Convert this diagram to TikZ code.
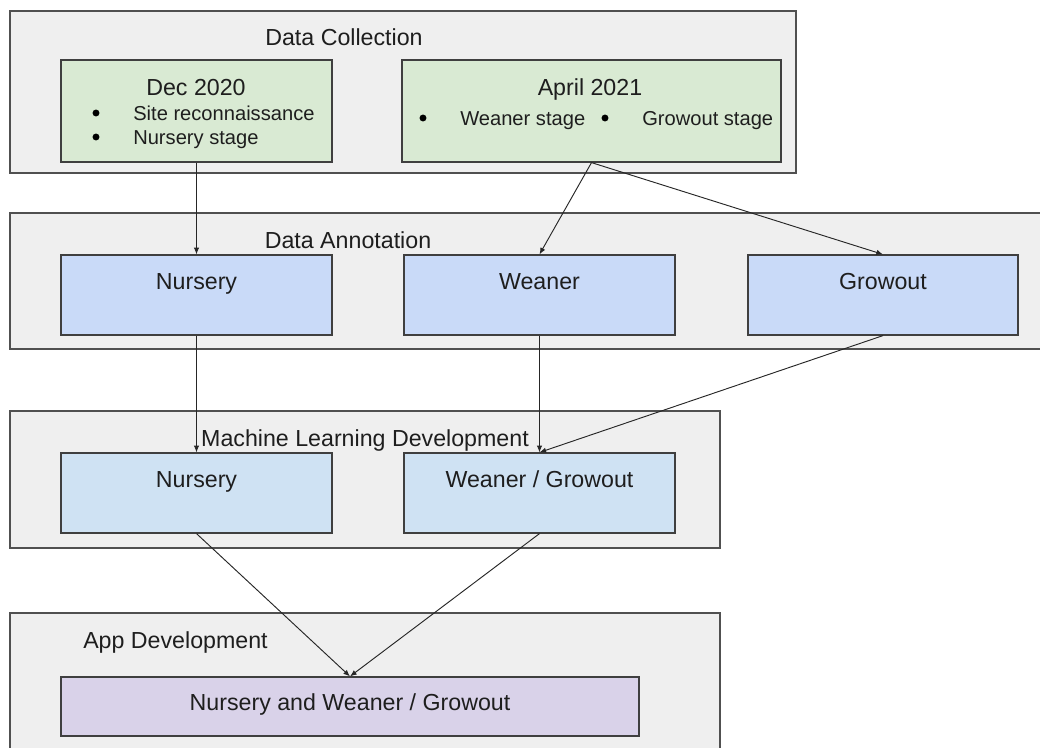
\documentclass[tikz,border=0pt]{standalone}
\usepackage{fontspec}
\setmainfont{Liberation Sans}
\usetikzlibrary{arrows.meta,fit}

\definecolor{stagefill}{HTML}{EFEFEF}
\definecolor{stageline}{HTML}{505050}
\definecolor{boxline}{HTML}{3F3F3F}
\definecolor{greenfill}{HTML}{D9EAD3}
\definecolor{bluefill}{HTML}{C9DAF8}
\definecolor{lightblue}{HTML}{CFE2F3}
\definecolor{purplefill}{HTML}{D9D2E9}
\definecolor{ink}{HTML}{1E1E1E}

\tikzset{
  stagebox/.style={draw=stageline, fill=stagefill, line width=1pt, inner sep=0pt, rectangle},
  itembox/.style={draw=boxline, line width=0.9pt, inner sep=0pt, rectangle},
  bigtext/.style={font=\fontsize{17.4}{20}\selectfont, text=ink, inner sep=0pt},
  smalltext/.style={font=\fontsize{15.1}{18}\selectfont, text=ink, inner sep=0pt},
  dot/.style={circle, fill=black, inner sep=0pt, minimum size=5.2pt},
  flow/.style={draw=black!85, line width=0.7pt, -{Latex[length=5pt,width=4pt]}}
}

\begin{document}
\begin{tikzpicture}[x=0.75pt, y=-0.75pt]
  \clip (0,0) rectangle (1040,747);
  \fill[white] (0,0) rectangle (1040,747);

  % stage frames
  \node[stagebox, fit={(10,11) (796,173)}] (collect) {};
  \node[stagebox, fit={(10,213) (1046,349)}] (annot) {};
  \node[stagebox, fit={(10,411) (720,548)}] (mldev) {};
  \node[stagebox, fit={(10,613) (720,756)}] (appdev) {};

  % stage titles
  \node[bigtext, anchor=base] (collectT) at (344,45) {Data Collection};
  \node[bigtext, anchor=base] (annotT) at (348,248) {Data Annotation};
  \node[bigtext, anchor=base] (mldevT) at (365,446) {Machine Learning Development};
  \node[bigtext, anchor=base west] (appdevT) at (83,648) {App Development};

  % data collection
  \node[itembox, fill=greenfill, fit={(61,60) (332,162)}] (dec) {};
  \node[bigtext, anchor=base] (decT) at (196,95) {Dec 2020};
  \node[dot] (decD1) at (96,113) {};
  \node[smalltext, anchor=base west] (decL1) at (133,120) {Site reconnaissance};
  \node[dot] (decD2) at (96,137) {};
  \node[smalltext, anchor=base west] (decL2) at (133,144) {Nursery stage};

  \node[itembox, fill=greenfill, fit={(402,60) (781,162)}] (apr) {};
  \node[bigtext, anchor=base] (aprT) at (590,95) {April 2021};
  \node[dot] (aprD1) at (423,118) {};
  \node[smalltext, anchor=base west] (aprL1) at (460,125) {Weaner stage};
  \node[dot] (aprD2) at (605,118) {};
  \node[smalltext, anchor=base west] (aprL2) at (642,125) {Growout stage};

  % data annotation
  \node[itembox, fill=bluefill, fit={(61,255) (332,335)}] (anNur) {};
  \node[bigtext, anchor=base] (anNurT) at (196.5,289) {Nursery};
  \node[itembox, fill=bluefill, fit={(404,255) (675,335)}] (anWea) {};
  \node[bigtext, anchor=base] (anWeaT) at (539.5,289) {Weaner};
  \node[itembox, fill=bluefill, fit={(748,255) (1018,335)}] (anGro) {};
  \node[bigtext, anchor=base] (anGroT) at (883,289) {Growout};

  % machine learning development
  \node[itembox, fill=lightblue, fit={(61,453) (332,533)}] (mlNur) {};
  \node[bigtext, anchor=base] (mlNurT) at (196.5,487) {Nursery};
  \node[itembox, fill=lightblue, fit={(404,453) (675,533)}] (mlWG) {};
  \node[bigtext, anchor=base] (mlWGT) at (539.5,487) {Weaner / Growout};

  % app development
  \node[itembox, fill=purplefill, fit={(61,677) (639,736)}] (app) {};
  \node[bigtext, anchor=base] (appT) at (350,710) {Nursery and Weaner / Growout};

  % connectors
  \draw[flow] (dec.south) -- (anNur.north);
  \draw[flow] (apr.south) -- (anWea.north);
  \draw[flow] (apr.south) -- (anGro.north);
  \draw[flow] (anNur.south) -- (mlNur.north);
  \draw[flow] (anWea.south) -- (mlWG.north);
  \draw[flow] (anGro.south) -- (mlWG.north);
  \draw[flow] (mlNur.south) -- (app.north);
  \draw[flow] (mlWG.south) -- (app.north);
\end{tikzpicture}
\end{document}
